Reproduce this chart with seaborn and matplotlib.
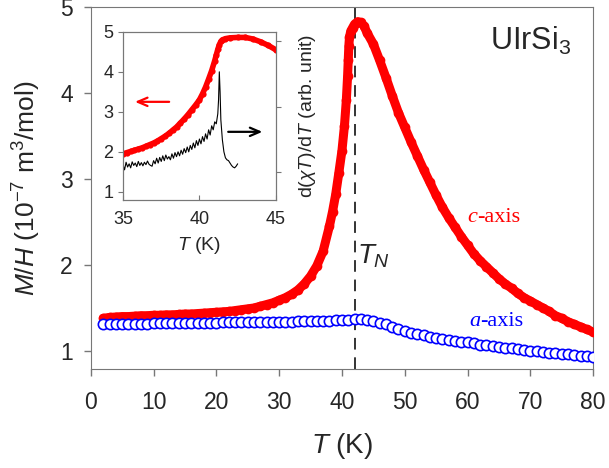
import numpy as np
import matplotlib
matplotlib.use('Agg')
import matplotlib.pyplot as plt
import seaborn as sns

# ---- data ----
# c-axis M/H (10^-7 m^3/mol), main panel
T_c = [2, 3, 4, 5, 6, 7, 8, 9, 10, 11, 12, 13, 14, 15, 16, 17, 18, 19, 20,
       21, 22, 23, 24, 25, 26, 27, 28, 29, 30, 31, 32, 33, 34, 35, 36, 37,
       38, 38.5, 39, 39.5, 40, 40.4, 40.7, 40.9, 41.0, 41.1, 41.2, 41.4, 41.7,
       42.0, 42.5, 43.0, 43.5, 44, 45, 46, 47, 48, 49, 50, 51, 52, 53, 54, 55,
       56, 57, 58, 59, 60, 61, 62, 63, 64, 65, 66, 67, 68, 69, 70, 71, 72, 73,
       74, 75, 76, 77, 78, 79, 80]
M_c = [1.38, 1.39, 1.395, 1.40, 1.40, 1.405, 1.41, 1.41, 1.415, 1.415, 1.42,
       1.42, 1.425, 1.43, 1.43, 1.435, 1.44, 1.445, 1.45, 1.455, 1.46, 1.47,
       1.48, 1.49, 1.50, 1.52, 1.54, 1.56, 1.59, 1.62, 1.66, 1.71, 1.78, 1.87,
       1.99, 2.16, 2.45, 2.62, 2.82, 3.07, 3.33, 3.62, 3.92, 4.20, 4.38, 4.55,
       4.65, 4.72, 4.76, 4.80, 4.83, 4.82, 4.78, 4.70, 4.57, 4.38, 4.18, 3.97,
       3.77, 3.60, 3.43, 3.27, 3.11, 2.96, 2.81, 2.67, 2.55, 2.44, 2.33, 2.23,
       2.13, 2.05, 1.98, 1.91, 1.84, 1.78, 1.73, 1.67, 1.62, 1.58, 1.54, 1.50,
       1.46, 1.41, 1.38, 1.34, 1.31, 1.28, 1.25, 1.22]

# a-axis M/H, main panel
T_a = [2, 3, 4, 5, 6, 7, 8, 9, 10, 11, 12, 13, 14, 15, 16, 17, 18, 19, 20,
       21, 22, 23, 24, 25, 26, 27, 28, 29, 30, 31, 32, 33, 34, 35, 36, 37, 38,
       39, 40, 41, 42, 43, 44, 45, 46, 47, 48, 49, 50, 51, 52, 53, 54, 55, 56,
       57, 58, 59, 60, 61, 62, 63, 64, 65, 66, 67, 68, 69, 70, 71, 72, 73, 74,
       75, 76, 77, 78, 79, 80]
M_a = [1.31, 1.31, 1.312, 1.315, 1.315, 1.316, 1.318, 1.319, 1.32, 1.321,
       1.322, 1.322, 1.324, 1.325, 1.326, 1.327, 1.328, 1.329, 1.33, 1.331,
       1.332, 1.333, 1.334, 1.335, 1.336, 1.337, 1.338, 1.339, 1.34, 1.341,
       1.342, 1.343, 1.344, 1.345, 1.347, 1.349, 1.35, 1.355, 1.36, 1.365,
       1.375, 1.37, 1.36, 1.35, 1.33, 1.31, 1.28, 1.25, 1.23, 1.21, 1.195,
       1.18, 1.165, 1.15, 1.14, 1.13, 1.12, 1.11, 1.10, 1.09, 1.075, 1.065,
       1.055, 1.045, 1.04, 1.03, 1.02, 1.01, 1.005, 0.995, 0.99, 0.98, 0.975,
       0.965, 0.96, 0.955, 0.945, 0.94, 0.935]

# inset: c-axis zoom around the transition
T_in = [35.0, 35.25, 35.5, 35.75, 36.0, 36.25, 36.5, 36.75, 37.0, 37.25, 37.5,
        37.75, 38.0, 38.25, 38.5, 38.75, 39.0, 39.25, 39.5, 39.75, 40.0, 40.2,
        40.4, 40.6, 40.8, 41.0, 41.1, 41.2, 41.3, 41.4, 41.5, 41.7, 42.0, 42.5,
        43.0, 43.5, 44.0, 44.5, 45.0]
M_in = [1.95, 1.98, 2.01, 2.04, 2.07, 2.10, 2.14, 2.18, 2.22, 2.27, 2.33,
        2.39, 2.46, 2.54, 2.62, 2.72, 2.82, 2.93, 3.05, 3.17, 3.30, 3.45, 3.62,
        3.82, 4.03, 4.28, 4.42, 4.56, 4.68, 4.76, 4.80, 4.83, 4.85, 4.86, 4.86,
        4.82, 4.75, 4.66, 4.55]

# inset: d(chi T)/dT (drawn in left-axis units)
T_d = [35.0, 35.1, 35.2, 35.3, 35.4, 35.5, 35.6, 35.7, 35.8, 35.9, 36.0, 36.1,
       36.2, 36.3, 36.4, 36.5, 36.6, 36.7, 36.8, 36.9, 37.0, 37.1, 37.2, 37.3,
       37.4, 37.5, 37.6, 37.7, 37.8, 37.9, 38.0, 38.1, 38.2, 38.3, 38.4, 38.5,
       38.6, 38.7, 38.8, 38.9, 39.0, 39.1, 39.2, 39.3, 39.4, 39.5, 39.6, 39.7,
       39.8, 39.9, 40.0, 40.1, 40.2, 40.3, 40.4, 40.5, 40.6, 40.7, 40.8, 40.9,
       41.0, 41.1, 41.2, 41.25, 41.3, 41.35, 41.4, 41.5, 41.6, 41.7, 41.8, 41.9,
       42.0, 42.1, 42.2, 42.3, 42.4, 42.5]
D_d = [1.68, 1.55, 1.74, 1.62, 1.70, 1.60, 1.75, 1.66, 1.72, 1.63, 1.76, 1.66,
       1.73, 1.65, 1.74, 1.68, 1.77, 1.69, 1.66, 1.64, 1.78, 1.70, 1.84, 1.72,
       1.86, 1.76, 1.90, 1.78, 1.92, 1.82, 1.88, 1.80, 1.95, 1.84, 1.98, 1.88,
       2.00, 1.90, 2.04, 1.94, 2.08, 1.98, 2.12, 2.00, 2.16, 2.06, 2.22, 2.10,
       2.28, 2.16, 2.32, 2.20, 2.38, 2.26, 2.45, 2.32, 2.55, 2.42, 2.65, 2.55,
       2.75, 2.70, 2.95, 3.30, 4.00, 3.50, 2.80, 2.30, 2.00, 1.85, 1.80, 1.78,
       1.72, 1.66, 1.62, 1.60, 1.64, 1.70]

T_N = 42

# ---- style ----
sns.set_style('ticks')
plt.rcParams['font.family'] = ['Liberation Sans', 'DejaVu Sans']
plt.rcParams['mathtext.fontset'] = 'custom'
plt.rcParams['mathtext.rm'] = 'Liberation Sans'
plt.rcParams['mathtext.it'] = 'Liberation Sans:italic'
plt.rcParams['mathtext.bf'] = 'Liberation Sans:bold'
frame = '#777777'

fig = plt.figure(figsize=(6.09, 4.68), dpi=100)
ax = fig.add_axes([0.149, 0.2115, 0.825, 0.7735])

# main panel
sns.lineplot(x=T_c, y=M_c, ax=ax, color='red', linewidth=6.5, marker='o',
             markersize=7, markeredgewidth=0, zorder=3)
sns.scatterplot(x=T_a, y=M_a, ax=ax, marker='o', s=55, facecolor='white',
                edgecolor='blue', linewidth=1.2, zorder=4)
ax.axvline(T_N, color='#333333', linestyle='--', linewidth=1.4,
           dashes=(6, 4), zorder=2)

ax.set_xlim(0, 80)
ax.set_ylim(0.79, 5.0)
ax.set_xticks(range(0, 81, 10))
ax.set_yticks([1, 2, 3, 4, 5])
ax.tick_params(labelsize=16.5, color=frame, length=5, width=1)
ax.tick_params(axis='x', pad=11)
ax.tick_params(axis='y', pad=8)
for sp in ax.spines.values():
    sp.set_visible(True)
    sp.set_color(frame)
ax.set_xlabel('$T$ (K)', fontsize=20, labelpad=12)
ax.set_ylabel('$M/H$ (10$^{-7}$ m$^3$/mol)', fontsize=19, labelpad=12)

ax.text(76.5, 4.6, 'UIrSi$_3$', fontsize=22, ha='right', va='center')
ax.text(42.4, 2.1, '$T_N$', fontsize=20, ha='left', va='center')
ax.text(61.5, 2.55, 'c', color='red', fontsize=16, style='italic',
        family='Liberation Serif', ha='right', va='center')
ax.text(61.5, 2.55, '-axis', color='red', fontsize=16,
        family='Liberation Serif', ha='left', va='center')
ax.text(62.0, 1.34, 'a', color='blue', fontsize=16, style='italic',
        family='Liberation Serif', ha='right', va='center')
ax.text(62.0, 1.34, '-axis', color='blue', fontsize=16,
        family='Liberation Serif', ha='left', va='center')

# inset
ax_in = fig.add_axes([0.202, 0.573, 0.251, 0.359])
ax_in.set_facecolor('white')
sns.lineplot(x=T_in, y=M_in, ax=ax_in, color='red', linewidth=4, marker='o',
             markersize=4.5, markeredgewidth=0, zorder=3)
sns.lineplot(x=T_d, y=D_d, ax=ax_in, color='black', linewidth=0.8, zorder=4)
ax_in.set_xlim(35, 45)
ax_in.set_ylim(0.8, 5)
ax_in.set_xticks([35, 40, 45])
ax_in.set_yticks([1, 2, 3, 4, 5])
ax_in.tick_params(labelsize=13, color=frame, length=3.5)
ax_in.tick_params(axis='x', direction='in', pad=8)
for sp in ax_in.spines.values():
    sp.set_visible(True)
    sp.set_color(frame)
ax_in.set_xlabel('$T$ (K)', fontsize=14, labelpad=5)

ax_in.annotate('', xy=(35.6, 3.25), xytext=(38.2, 3.25),
               arrowprops=dict(arrowstyle='->,head_length=0.7,head_width=0.3',
                               color='red', lw=1.6))
ax_in.annotate('', xy=(44.3, 2.5), xytext=(41.7, 2.5),
               arrowprops=dict(arrowstyle='->,head_length=0.7,head_width=0.3',
                               color='black', lw=1.6))

ax_r = ax_in.twinx()
ax_r.set_ylim(0.8, 5)
ax_r.set_yticks([1.5, 3.13, 4.78])
ax_r.set_yticklabels([])
ax_r.tick_params(color=frame, length=3.5)
for sp in ax_r.spines.values():
    sp.set_color(frame)
ax_r.set_ylabel('d($\\chi T$)/d$T$ (arb. unit)', fontsize=14, labelpad=8)

fig.savefig('out.png', dpi=100)
